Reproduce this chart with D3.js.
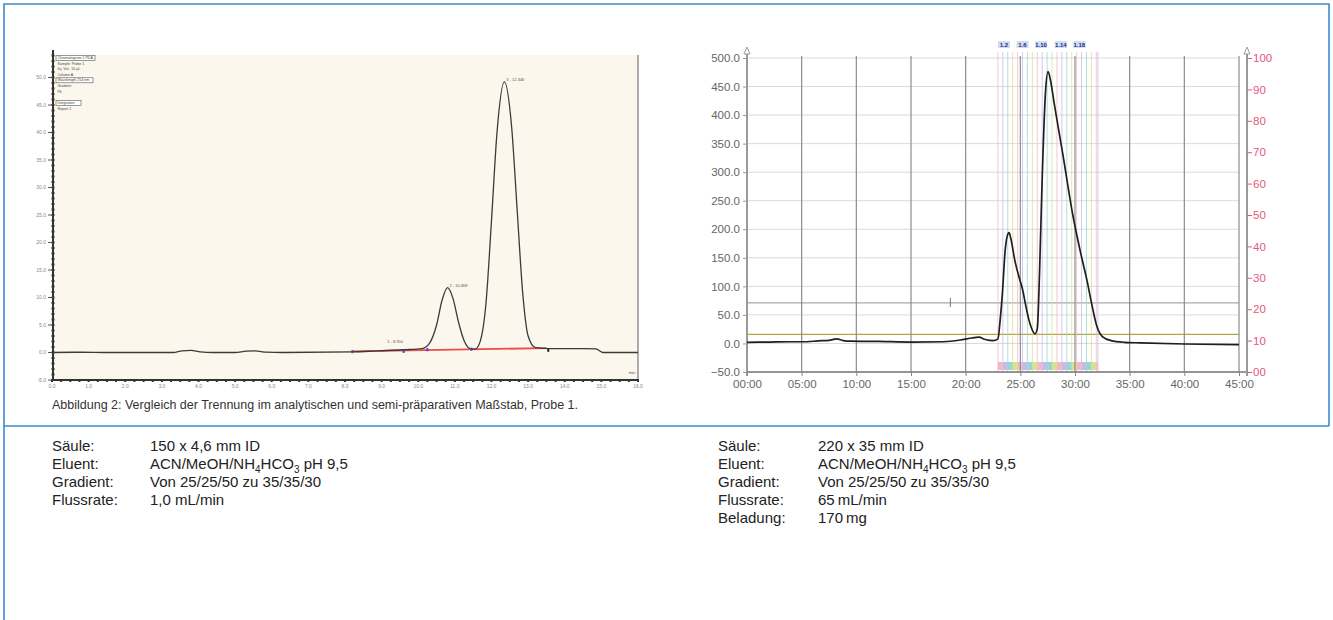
<!DOCTYPE html>
<html>
<head>
<meta charset="utf-8">
<script src="https://cdn.jsdelivr.net/npm/d3@7"></script>
<style>
  body { margin: 0; background: #fff; }
  text { font-family: "Liberation Sans", Arial, sans-serif; }
</style>
</head>
<body>
<script>
// ---- data: analytical run (left) ----
const leftXTicks = [0, 1, 2, 3, 4, 5, 6, 7, 8, 9, 10, 11, 12, 13, 14, 15, 16]
const leftYTicks = [-5, 0, 5, 10, 15, 20, 25, 30, 35, 40, 45, 50]
const leftTrace = [
  [0, 0], [0.8, 0.05], [1.5, 0], [3.3, 0], [3.55, 0.3], [3.8, 0.4], [4.05, 0.1], [4.4, 0],
  [5.0, 0], [5.3, 0.25], [5.55, 0.3], [5.85, 0.05], [6.3, 0], [8.2, 0.1], [8.9, 0.3],
  [9.6, 0.5], [10.1, 0.7], [10.3, 1.6], [10.5, 5], [10.65, 9.5], [10.8, 11.8], [10.95, 9.8],
  [11.1, 5.5], [11.25, 2.2], [11.42, 0.7], [11.55, 0.6], [11.68, 1.8], [11.85, 9],
  [12.0, 24], [12.15, 40], [12.35, 49.2], [12.55, 41], [12.7, 26], [12.85, 11],
  [13.0, 3], [13.2, 0.9], [13.6, 0.7], [14.5, 0.7], [14.85, 0.65], [15.05, 0], [16, 0]
]
const leftRedBase = [[8.2, 0.2], [13.5, 0.8]]
const leftMarks = [[8.2, 0.15], [9.6, 0.2], [10.25, 0.5], [11.45, 0.6], [13.55, 0.4]]
const leftPeakLabels = [[9.1, 1.5, '1 - 8.950'], [10.8, 11.8, '2 - 10.808'], [12.35, 49.2, '3 - 12.346']]
const leftLegend = ['Chromatogram 1 PDA', 'Sample: Probe 1', 'Inj. Vol.: 10 µL', 'Column A',
  'Wavelength 254 nm', 'Gradient', 'Pk', 'Integration', 'Report 1']

// ---- data: semi-preparative run (right) ----
const rightXTicks = [0, 5, 10, 15, 20, 25, 30, 35, 40, 45]
const rightYTicks = [-50, 0, 50, 100, 150, 200, 250, 300, 350, 400, 450, 500]
const rightY2Ticks = [0, 10, 20, 30, 40, 50, 60, 70, 80, 90, 100]
const rightTrace = [
  [0, 2], [2, 2.5], [4, 3], [5.5, 3], [6.5, 4.5], [7.5, 5.5], [8.2, 8], [8.8, 5], [9.5, 4],
  [12, 3.5], [15, 2.5], [18, 3], [19.5, 6], [20.5, 9.5], [21.2, 11], [21.8, 7], [22.5, 5],
  [22.95, 8], [23.15, 40], [23.35, 85], [23.6, 160], [23.8, 188], [23.97, 194], [24.15, 182],
  [24.5, 145], [24.9, 115], [25.2, 95], [25.5, 66], [25.75, 44], [26.0, 28], [26.35, 17],
  [26.55, 26], [26.75, 120], [27.0, 290], [27.3, 440], [27.54, 476], [27.75, 462], [28.1, 420],
  [28.9, 330], [29.8, 225], [30.5, 160], [31.1, 110], [31.5, 72], [32.0, 30], [32.5, 12],
  [33.3, 5], [34.5, 2], [36, 1], [40, -1], [45, -2]
]
const fractionCuts = [22.95, 23.4, 23.85, 24.3, 24.75, 25.2, 25.65, 26.1, 26.55, 27.0, 27.45,
  27.9, 28.35, 28.8, 29.25, 29.7, 30.15, 30.6, 31.05, 31.5, 31.95, 32.1]
const fractionLabels = [[23.5, '1.2'], [25.2, '1.6'], [26.9, '1.10'], [28.7, '1.14'], [30.4, '1.18']]
const fractionColors = ['#f3b8c6', '#c4bbea', '#93d8d0', '#dcdf8e']
const levelLines = [[16, '#b3a640'], [71, '#a9a9a9']]

// ---- spec text ----
const specLeft = [
  ['Säule:', ['150 x 4,6 mm ID']],
  ['Eluent:', ['ACN/MeOH/NH', ['4'], 'HCO', ['3'], ' pH 9,5']],
  ['Gradient:', ['Von 25/25/50 zu 35/35/30']],
  ['Flussrate:', ['1,0 mL/min']]
]
const specRight = [
  ['Säule:', ['220 x 35 mm ID']],
  ['Eluent:', ['ACN/MeOH/NH', ['4'], 'HCO', ['3'], ' pH 9,5']],
  ['Gradient:', ['Von 25/25/50 zu 35/35/30']],
  ['Flussrate:', ['65\u2009mL/min']],
  ['Beladung:', ['170\u2009mg']]
]
const caption = 'Abbildung 2: Vergleich der Trennung im analytischen und semi-präparativen Maßstab, Probe 1.'

const width = 1333
const height = 620
const frame = '#3d8bcd'

const svg = d3.select('body').append('svg').attr('width', width).attr('height', height)

// frame
svg.append('path')
  .attr('d', `M4,${height} V4 H1329 V426 M4,426 H1329`)
  .attr('fill', 'none').attr('stroke', frame).attr('stroke-width', 1.6)

// ================= left chart =================
const xL = d3.scaleLinear().domain([0, 16]).range([52, 638])
const yL = d3.scaleLinear().domain([-5, 50]).range([380, 77.5])
const gL = svg.append('g')

gL.append('rect').attr('x', 53).attr('y', 55).attr('width', 585).attr('height', 325).attr('fill', '#fbf7ed')
gL.append('line').attr('x1', 638).attr('x2', 638).attr('y1', 55).attr('y2', 380).attr('stroke', '#777').attr('stroke-width', 1.2)

// y axis with dense minor ticks
const minorY = d3.range(-5, 55, 1)
gL.selectAll('.mty').data(minorY).join('rect')
  .attr('x', 51.5).attr('y', d => yL(d) - 1).attr('width', 3).attr('height', 2).attr('fill', '#333')
gL.append('line').attr('x1', 53).attr('x2', 53).attr('y1', 50).attr('y2', 381).attr('stroke', '#333').attr('stroke-width', 2)
gL.selectAll('.tly').data(leftYTicks).join('line')
  .attr('x1', 48).attr('x2', 53).attr('y1', d => yL(d)).attr('y2', d => yL(d)).attr('stroke', '#555')
gL.selectAll('.lly').data(leftYTicks).join('text')
  .attr('x', 46).attr('y', d => yL(d) + 1.5).attr('text-anchor', 'end').attr('font-size', 5).attr('fill', '#888')
  .text(d => d.toFixed(1))

// x axis
const minorX = d3.range(0, 16.01, 0.25)
gL.append('line').attr('x1', 52).attr('x2', 639).attr('y1', 380).attr('y2', 380).attr('stroke', '#333').attr('stroke-width', 2)
gL.selectAll('.mtx').data(minorX).join('rect')
  .attr('x', d => xL(d) - 1).attr('y', 379).attr('width', 2).attr('height', 3).attr('fill', '#333')
gL.selectAll('.llx').data(leftXTicks).join('text')
  .attr('x', d => xL(d)).attr('y', 388).attr('text-anchor', 'middle').attr('font-size', 5).attr('fill', '#888')
  .text(d => d.toFixed(1))
gL.append('text').attr('x', 632).attr('y', 374).attr('font-size', 4).attr('fill', '#555').attr('text-anchor', 'middle').text('min')

// legend boxes
const legendG = gL.append('g')
leftLegend.forEach((t, i) => {
  const y = 59 + i * 5.6 + (i > 6 ? 6 : 0)
  const boxed = i === 0 || i === 4 || i === 7
  if (boxed) {
    legendG.append('rect').attr('x', 56).attr('y', y - 3.6).attr('width', t.length * 2 + 3).attr('height', 5)
      .attr('fill', '#fff').attr('stroke', '#555').attr('stroke-width', 0.6)
  }
  legendG.append('text').attr('x', 57.5).attr('y', y).attr('font-size', 3.6).attr('fill', '#444').text(t)
})

// red baseline
const lineL = d3.line().x(d => xL(d[0])).y(d => yL(d[1]))
gL.append('path').attr('d', lineL(leftRedBase)).attr('fill', 'none').attr('stroke', '#f04a4a').attr('stroke-width', 1.8)

// trace
gL.append('path').attr('d', lineL.curve(d3.curveMonotoneX)(leftTrace))
  .attr('fill', 'none').attr('stroke', '#3a3a3a').attr('stroke-width', 1.3)

gL.selectAll('.lmk').data(leftMarks).join('rect')
  .attr('x', d => xL(d[0]) - 1).attr('y', d => yL(d[1]) - 1.5).attr('width', 2).attr('height', 3)
  .attr('fill', (d, i) => i === 4 ? '#222' : '#3548c8')
gL.selectAll('.lpl').data(leftPeakLabels).join('text')
  .attr('x', d => xL(d[0]) + 2).attr('y', d => yL(d[1]) - 1).attr('font-size', 4).attr('fill', '#555')
  .text(d => d[2])

// ================= right chart =================
const xR = d3.scaleLinear().domain([0, 45]).range([747, 1239])
const yR = d3.scaleLinear().domain([-50, 500]).range([372, 58])
const yR2 = d3.scaleLinear().domain([0, 100]).range([372, 58])
const gR = svg.append('g')

// horizontal grid
gR.selectAll('.hg').data(rightYTicks).join('line')
  .attr('x1', 747).attr('x2', 1239).attr('y1', d => yR(d)).attr('y2', d => yR(d))
  .attr('stroke', '#dadada').attr('stroke-width', 1)
levelLines.forEach(([v, c]) => {
  gR.append('line').attr('x1', 747).attr('x2', 1239).attr('y1', yR(v)).attr('y2', yR(v))
    .attr('stroke', c).attr('stroke-width', 1.3)
})

// fraction lines and boxes
gR.selectAll('.fl').data(fractionCuts).join('line')
  .attr('x1', d => xR(d)).attr('x2', d => xR(d)).attr('y1', 52).attr('y2', 372)
  .attr('stroke', (d, i) => fractionColors[i % 4]).attr('stroke-width', 1).attr('opacity', 0.75)
gR.selectAll('.fb').data(fractionCuts.slice(0, -1)).join('rect')
  .attr('x', d => xR(d)).attr('y', 362)
  .attr('width', (d, i) => xR(fractionCuts[i + 1]) - xR(d)).attr('height', 8)
  .attr('fill', (d, i) => fractionColors[i % 4])
const fl = gR.selectAll('.flab').data(fractionLabels).join('g')
  .attr('transform', d => `translate(${xR(d[0])},45)`)
fl.append('rect').attr('x', -6).attr('y', -4).attr('width', 12).attr('height', 7).attr('fill', '#cfdcf3')
fl.append('text').attr('text-anchor', 'middle').attr('y', 2).attr('font-size', 6).attr('font-weight', 'bold')
  .attr('fill', '#1f2f7a').text(d => d[1])

// vertical grid
gR.selectAll('.vg').data(rightXTicks.slice(1)).join('line')
  .attr('x1', d => xR(d)).attr('x2', d => xR(d)).attr('y1', 56).attr('y2', 372)
  .attr('stroke', '#8c8c8c').attr('stroke-width', 1.2)

// left axis
gR.append('line').attr('x1', 747).attr('x2', 747).attr('y1', 50).attr('y2', 376).attr('stroke', '#9a9a9a').attr('stroke-width', 2)
gR.append('path').attr('d', 'M744,54 L747,47 L750,54 Z').attr('fill', '#fff').attr('stroke', '#999')
const axL = gR.append('g').attr('transform', 'translate(747,0)')
  .call(d3.axisLeft(yR).tickValues(rightYTicks).tickSize(4).tickFormat(d3.format('.1f')))
axL.select('.domain').remove()
axL.selectAll('line').attr('stroke', '#999')
axL.selectAll('text').attr('font-size', 11.5).attr('fill', '#666').attr('font-family', '"Liberation Sans", Arial, sans-serif')

// bottom axis
gR.append('line').attr('x1', 747).attr('x2', 1247).attr('y1', 372).attr('y2', 372).attr('stroke', '#777').attr('stroke-width', 1.5)
const axB = gR.append('g').attr('transform', 'translate(0,372)')
  .call(d3.axisBottom(xR).tickValues(rightXTicks).tickSize(4).tickFormat(d => d3.format('02d')(d) + ':00'))
axB.select('.domain').remove()
axB.selectAll('line').attr('stroke', '#888')
axB.selectAll('text').attr('font-size', 11.5).attr('fill', '#666').attr('dy', '0.8em').attr('font-family', '"Liberation Sans", Arial, sans-serif')

// right axis
gR.append('line').attr('x1', 1247).attr('x2', 1247).attr('y1', 50).attr('y2', 376).attr('stroke', '#9a9a9a').attr('stroke-width', 2)
gR.append('path').attr('d', 'M1244,54 L1247,47 L1250,54 Z').attr('fill', '#fff').attr('stroke', '#999')
const axR = gR.append('g').attr('transform', 'translate(1247,0)')
  .call(d3.axisRight(yR2).tickValues(rightY2Ticks).tickSize(5).tickFormat(d => d === 100 ? '100' : d3.format('02d')(d)))
axR.select('.domain').remove()
axR.selectAll('line').attr('stroke', '#e3577f')
axR.selectAll('text').attr('font-size', 11.5).attr('fill', '#e3577f').attr('x', 6).attr('font-family', '"Liberation Sans", Arial, sans-serif')

// small marker
gR.append('line').attr('x1', xR(18.6)).attr('x2', xR(18.6)).attr('y1', yR(80)).attr('y2', yR(64)).attr('stroke', '#777')

// trace
const lineR = d3.line().x(d => xR(d[0])).y(d => yR(d[1])).curve(d3.curveMonotoneX)
gR.append('path').attr('d', lineR(rightTrace)).attr('fill', 'none').attr('stroke', '#1f1f1f').attr('stroke-width', 1.7)

// ================= caption and specs =================
svg.append('text').attr('x', 52).attr('y', 409).attr('font-size', 12.5).attr('fill', '#333').text(caption)

function spec(rows, x0, x1) {
  rows.forEach(([label, parts], i) => {
    const y = 451 + i * 18
    svg.append('text').attr('x', x0).attr('y', y).attr('font-size', 15).attr('fill', '#222').text(label)
    const t = svg.append('text').attr('x', x1).attr('y', y).attr('font-size', 15).attr('fill', '#222')
    let shift = 0
    parts.forEach(p => {
      if (Array.isArray(p)) {
        t.append('tspan').attr('font-size', 10).attr('dy', 4 - shift).text(p[0])
        shift = 4
      } else {
        t.append('tspan').attr('dy', -shift).text(p)
        shift = 0
      }
    })
  })
}
spec(specLeft, 52, 150)
spec(specRight, 718, 818)
</script>
</body>
</html>
